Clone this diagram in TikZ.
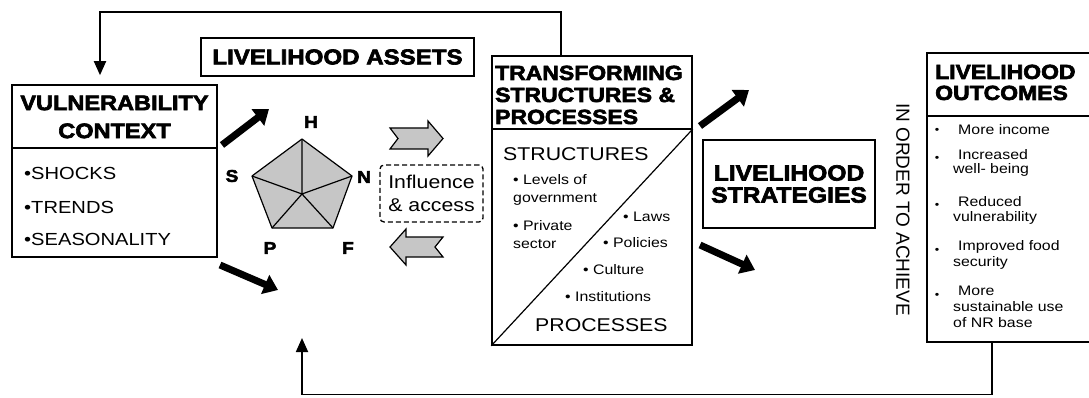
\documentclass[tikz,border=0pt]{standalone}
\usepackage{fontspec}
\setmainfont[FakeStretch=1.15]{Liberation Sans}
\newfontfamily\heavy[FakeStretch=1.12,FakeBold=3]{Liberation Sans Bold}
\newfontfamily\plainrot{Liberation Sans}
\usetikzlibrary{arrows.meta}
\begin{document}
\begin{tikzpicture}[x=1pt,y=-1pt,
  box/.style={draw, line width=1.6pt, inner sep=0pt},
  hd/.style={font=\heavy\fontsize{21.5}{22}\selectfont, align=center},
  hdl/.style={font=\heavy\fontsize{20.5}{21}\selectfont, anchor=base west, inner sep=0pt},
  blt/.style={font=\fontsize{17.5}{18}\selectfont, anchor=base west, inner sep=0pt},
  sml/.style={font=\fontsize{13.8}{15}\selectfont, anchor=base west, inner sep=0pt},
  big/.style={font=\fontsize{18.5}{20}\selectfont, anchor=base west, inner sep=0pt},
  lbl/.style={font=\heavy\fontsize{17}{18}\selectfont, inner sep=0pt},
  fb/.style={line width=1.8pt},
  fbtip/.style={-{Triangle[length=14pt,width=12pt]}},
  thick arrow/.style={line width=7pt, -{Triangle[length=14pt,width=20pt]}},
  grayarr/.style={draw, line width=1.2pt, fill=gray!45, line join=miter},
  pent/.style={draw, line width=1.2pt, line join=round}
]
\useasboundingbox (0,0) rectangle (1089,398);

% Livelihood assets title
\node[box, hd, minimum width=273pt, minimum height=38pt] (la) at (337.5,57) {LIVELIHOOD ASSETS};

% Vulnerability context
\node[box, minimum width=205pt, minimum height=172pt] (vc) at (114.5,171) {};
\draw[fb] (vc.west |- 0,148) -- (vc.east |- 0,148);
\node[hd, font=\heavy\fontsize{21}{28}\selectfont] (vct) at (114.5,117) {VULNERABILITY\\CONTEXT};
\node[blt] (vc1) at (24,180) {•SHOCKS};
\node[blt] (vc2) at (24,213) {•TRENDS};
\node[blt] (vc3) at (24,245) {•SEASONALITY};

% Pentagon of assets
\coordinate (ph) at (302,139);
\coordinate (pn) at (352,176);
\coordinate (pf) at (333,228);
\coordinate (pp) at (272,228);
\coordinate (ps) at (252,176);
\coordinate (pc) at (302,194);
\path[pent, fill=gray!45] (ph) -- (pn) -- (pf) -- (pp) -- (ps) -- cycle;
\draw[pent] (pc) -- (ph) (pc) -- (pn) (pc) -- (pf) (pc) -- (pp) (pc) -- (ps);
\node[lbl] (lh) at (311,122) {H};
\node[lbl] (ls) at (232,176) {S};
\node[lbl] (ln) at (364,177) {N};
\node[lbl] (lp) at (270,248) {P};
\node[lbl] (lf) at (348,248) {F};

% Influence & access
\node[draw, dash pattern=on 5pt off 3pt, line width=1.3pt, rounded corners=4pt,
      minimum width=103pt, minimum height=57pt, align=center, inner sep=0pt,
      font=\fontsize{18.5}{23}\selectfont] (inf) at (431.5,193.5) {Influence\\\& access};

% Gray block arrows
\path[grayarr] (390,128) -- (428,128) -- (428,121) -- (443,138.5) -- (428,156) -- (428,149) -- (390,149) -- (398,138.5) -- cycle;
\path[grayarr] (443,237) -- (406,237) -- (406,229) -- (390,247) -- (406,265) -- (406,257) -- (443,257) -- (435,247) -- cycle;

% Transforming structures & processes
\node[box, minimum width=200pt, minimum height=289pt] (ts) at (592,200.5) {};
\draw[fb] (ts.west |- 0,129) -- (ts.east |- 0,129);
\draw[line width=1.2pt] (ts.south west) -- (ts.east |- 0,129);
\node[hdl] (ts1) at (495,80) {TRANSFORMING};
\node[hdl] (ts2) at (495,102) {STRUCTURES \&};
\node[hdl] (ts3) at (495,124) {PROCESSES};
\node[big] (st) at (503,161) {STRUCTURES};
\node[big] (pr) at (535,331) {PROCESSES};
\node[sml] (s1) at (513,185) {• Levels of};
\node[sml] (s2) at (513,203) {government};
\node[sml] (s3) at (513,230) {• Private};
\node[sml] (s4) at (513,248) {sector};
\node[sml] (p1) at (623,222) {• Laws};
\node[sml] (p2) at (603,247) {• Policies};
\node[sml] (p3) at (583,274) {• Culture};
\node[sml] (p4) at (565,301) {• Institutions};

% Livelihood strategies
\node[box, hd, font=\heavy\fontsize{22}{22}\selectfont, minimum width=172pt, minimum height=88pt] (ls) at (789,184) {LIVELIHOOD\\STRATEGIES};

% In order to achieve
\node[font=\plainrot\fontsize{19}{20}\selectfont, rotate=-90, inner sep=0pt] (ioa) at (903,209.5) {IN ORDER TO ACHIEVE};

% Livelihood outcomes
\node[minimum width=170pt, minimum height=289pt, anchor=north west, inner sep=0pt] (lo) at (927,53) {};
\draw[fb] (1089,53) -- (lo.north west) -- (927,342) -- (1089,342);
\draw[fb] (927,116) -- (1089,116);
\node[hdl, font=\heavy\fontsize{20.5}{21}\selectfont] (lo1) at (935,79) {LIVELIHOOD};
\node[hdl, font=\heavy\fontsize{20.5}{21}\selectfont] (lo2) at (935,100) {OUTCOMES};
\foreach \yy [count=\i] in {131,159,206,251,296}
  \node[font=\fontsize{11}{12}\selectfont, inner sep=0pt] (d\i) at (937,\yy) {•};
\node[sml] (o1) at (958,135) {More income};
\node[sml] (o2) at (958,160) {Increased};
\node[sml] (o3) at (953,174) {well- being};
\node[sml] (o4) at (958,207) {Reduced};
\node[sml] (o5) at (953,222) {vulnerability};
\node[sml] (o6) at (958,250) {Improved food};
\node[sml] (o7) at (953,266) {security};
\node[sml] (o8) at (958,295) {More};
\node[sml] (o9) at (953,311) {sustainable use};
\node[sml] (o10) at (953,327) {of NR base};

% Thick black arrows
\coordinate (a1s) at (222,145); \coordinate (a1e) at (269,109);
\coordinate (a2s) at (220,265); \coordinate (a2e) at (278,290);
\coordinate (a3s) at (700,126); \coordinate (a3e) at (749,90);
\coordinate (a4s) at (700,245); \coordinate (a4e) at (755,270);
\draw[thick arrow] (a1s) -- (a1e);
\draw[thick arrow] (a2s) -- (a2e);
\draw[thick arrow] (a3s) -- (a3e);
\draw[thick arrow] (a4s) -- (a4e);

% Feedback lines
\draw[fb, fbtip] ([xshift=-31pt]ts.north) -- ++(0,-43) -| ([xshift=-14.5pt,yshift=9pt]vc.north);
\coordinate (assetsIn) at (302,338);
\draw[fb, fbtip] ([xshift=65pt]lo.south west) -- ++(0,52) -| (assetsIn);
\end{tikzpicture}
\end{document}
